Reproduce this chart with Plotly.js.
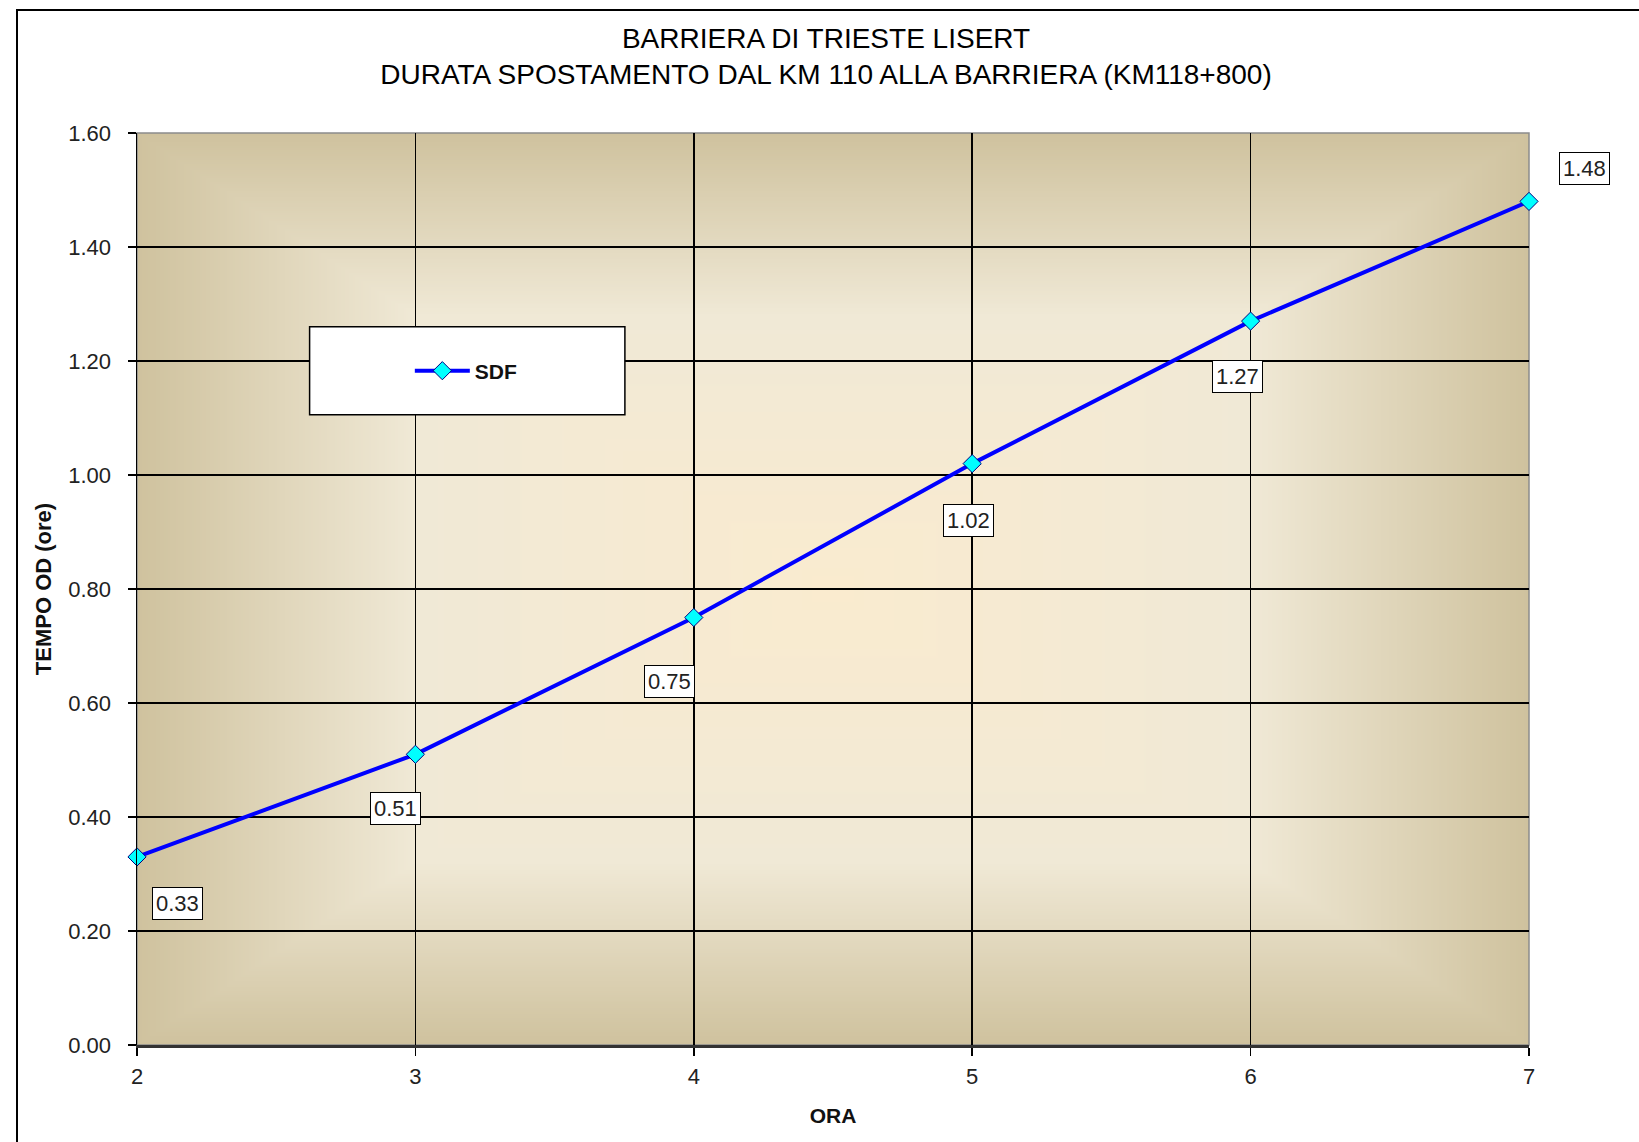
<!DOCTYPE html>
<html>
<head>
<meta charset="utf-8">
<script src="https://cdn.plot.ly/plotly-3.0.1.min.js"></script>
<style>
  html, body { margin: 0; padding: 0; background: #ffffff; }
  #wrap { position: relative; width: 1639px; height: 1142px; overflow: hidden; }
  #frame { position: absolute; left: 16px; top: 9px; width: 3000px; height: 3000px;
           border-left: 2px solid #000; border-top: 2px solid #000; pointer-events: none; }
  #chart { position: absolute; left: 0; top: 0; width: 1639px; height: 1142px; }
</style>
</head>
<body>
<div id="wrap">
  <div id="frame"></div>
  <div id="chart"></div>
</div>
<script>
// Hour of departure and travel time (hours) to the toll barrier
const ora = [2, 3, 4, 5, 6, 7];
const tempo = [0.33, 0.51, 0.75, 1.02, 1.27, 1.48];
const seriesName = 'SDF';
const yTicks = [0, 0.2, 0.4, 0.6, 0.8, 1.0, 1.2, 1.4, 1.6];
const xTicks = [2, 3, 4, 5, 6, 7];

// Offsets (px) of each value label from its point
const labelDx = [40, -20, -24, -4, -13, 55];
const labelDy = [47, 54, 64, 57, 55, -33];

// Rectangular "from centre" gradient for the plot area
function gradientImage(w, h) {
  const c = document.createElement('canvas');
  c.width = w; c.height = h;
  const ctx = c.getContext('2d');
  const img = ctx.createImageData(w, h);
  const stops = [
    [0.0, [250, 235, 207]],
    [0.6, [240, 233, 214]],
    [1.0, [207, 194, 158]]
  ];
  function col(t) {
    for (let i = 1; i < stops.length; i++) {
      if (t <= stops[i][0]) {
        const a = stops[i - 1], b = stops[i];
        const f = (t - a[0]) / (b[0] - a[0]);
        return a[1].map((v, k) => v + (b[1][k] - v) * f);
      }
    }
    return stops[stops.length - 1][1];
  }
  const hw = w / 2, hh = h / 2;
  for (let y = 0; y < h; y++) {
    for (let x = 0; x < w; x++) {
      const t = Math.min(1, Math.max(Math.abs(x + 0.5 - hw) / hw, Math.abs(y + 0.5 - hh) / hh));
      const cc = col(t);
      const i = (y * w + x) * 4;
      img.data[i] = cc[0]; img.data[i + 1] = cc[1]; img.data[i + 2] = cc[2]; img.data[i + 3] = 255;
    }
  }
  ctx.putImageData(img, 0, 0);
  return c.toDataURL('image/png');
}

const FONT = 'Liberation Sans, Arial, sans-serif';

const trace = {
  x: ora,
  y: tempo,
  name: seriesName,
  type: 'scatter',
  mode: 'lines+markers',
  line: { color: '#0000FF', width: 4 },
  marker: { symbol: 'diamond', size: 14, color: '#00FFFF', line: { color: '#000080', width: 1 } },
  cliponaxis: false,
  hoverinfo: 'x+y'
};

const annotations = tempo.map((v, i) => ({
  x: ora[i], y: v, xref: 'x', yref: 'y',
  text: v.toFixed(2),
  showarrow: false,
  xshift: labelDx[i], yshift: -labelDy[i],
  font: { family: FONT, size: 22, color: '#222' },
  bgcolor: '#ffffff', bordercolor: '#000000', borderwidth: 1, borderpad: 3
}));

const layout = {
  width: 1639, height: 1142,
  margin: { l: 137, r: 110, t: 133, b: 97, pad: 0 },
  paper_bgcolor: 'rgba(0,0,0,0)',
  plot_bgcolor: '#F0E9D6',
  font: { family: FONT, color: '#222' },
  title: {
    text: 'BARRIERA DI TRIESTE LISERT<br>DURATA SPOSTAMENTO DAL KM 110 ALLA BARRIERA (KM118+800)',
    font: { family: FONT, size: 28, color: '#000' },
    xref: 'paper', x: 0.495, xanchor: 'center',
    yref: 'container', y: 0.958, yanchor: 'middle'
  },
  xaxis: {
    range: [2, 7],
    tickvals: xTicks,
    ticktext: xTicks.map(String),
    showgrid: true, gridcolor: '#000', gridwidth: 1.5,
    zeroline: false,
    showline: true, linecolor: '#333', linewidth: 3,
    ticks: 'outside', ticklen: 8, tickwidth: 1.5, tickcolor: '#000',
    ticklabelstandoff: 2,
    tickfont: { family: FONT, size: 22, color: '#222' },
    title: { text: '<b>ORA</b>', font: { family: FONT, size: 21, color: '#111' }, standoff: 20 },
    automargin: false,
    fixedrange: true
  },
  yaxis: {
    range: [0, 1.6],
    tickvals: yTicks,
    tickformat: '.2f',
    showgrid: true, gridcolor: '#000', gridwidth: 1.5,
    zeroline: false,
    showline: true, linecolor: '#000', linewidth: 1.5,
    ticks: 'outside', ticklen: 8, tickwidth: 1.5, tickcolor: '#000',
    ticklabelstandoff: 12,
    tickfont: { family: FONT, size: 22, color: '#222' },
    title: { text: '<b>TEMPO OD (ore)</b>', font: { family: FONT, size: 22, color: '#111' }, standoff: 10 },
    automargin: false,
    fixedrange: true
  },
  images: [{
    source: gradientImage(700, 460),
    xref: 'paper', yref: 'paper', x: 0, y: 1, sizex: 1, sizey: 1,
    xanchor: 'left', yanchor: 'top', sizing: 'stretch', layer: 'below'
  }],
  shapes: [
    // thin grey border of the plot area
    { type: 'rect', xref: 'paper', yref: 'paper', x0: 0, x1: 1, y0: 0, y1: 1,
      line: { color: '#8C8C8C', width: 1.5 }, layer: 'between' },
    // legend box
    { type: 'rect', xref: 'paper', yref: 'paper', x0: 0.124, x1: 0.3505, y0: 0.691, y1: 0.7875,
      fillcolor: '#ffffff', line: { color: '#000', width: 1.5 }, layer: 'above' }
  ],
  showlegend: true,
  legend: {
    x: 0.196, y: 0.739, xanchor: 'left', yanchor: 'middle',
    bgcolor: 'rgba(0,0,0,0)', borderwidth: 0,
    itemwidth: 55,
    font: { family: FONT, size: 21, color: '#111', weight: 'bold' }
  },
  annotations: annotations
};

Plotly.newPlot('chart', [trace], layout, { displayModeBar: false, staticPlot: true });
</script>
</body>
</html>
